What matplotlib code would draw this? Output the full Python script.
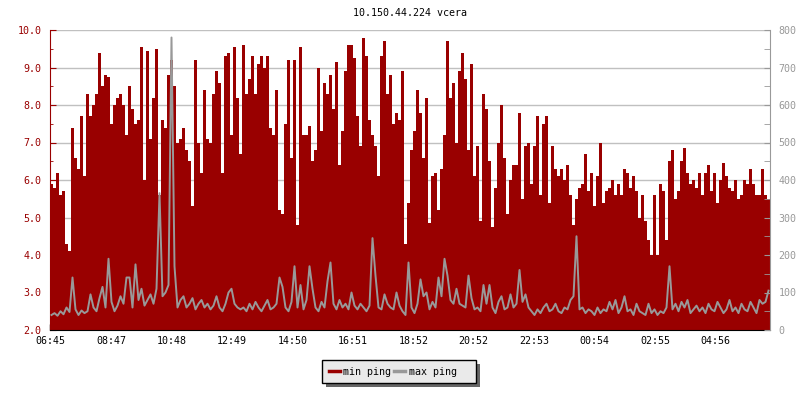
import numpy as np
import matplotlib
matplotlib.use("Agg")
import matplotlib.pyplot as plt
from matplotlib.ticker import MultipleLocator, FormatStrFormatter
from matplotlib.lines import Line2D
from matplotlib.patches import Rectangle

# one sample every 6 minutes, starting 06:45
step_min = 6

# min ping (left axis)
min_ping = [
    5.9, 5.8, 6.2, 5.6, 5.7, 4.3, 4.1, 7.4, 6.6, 6.3,
    7.7, 6.1, 8.3, 7.7, 8.0, 8.3, 9.4, 8.5, 8.8, 8.75,
    7.5, 8.0, 8.2, 8.3, 8.0, 7.2, 8.5, 7.9, 7.5, 7.6,
    9.55, 6.0, 9.45, 7.1, 8.2, 9.5, 5.6, 7.6, 7.4, 8.8,
    9.2, 8.5, 7.0, 7.1, 7.4, 6.8, 6.5, 5.3, 9.2, 7.0,
    6.2, 8.4, 7.1, 7.0, 8.3, 8.9, 8.6, 6.2, 9.3, 9.4,
    7.2, 9.55, 8.2, 6.7, 9.6, 8.3, 8.7, 9.3, 8.3, 9.1,
    9.3, 9.0, 9.3, 7.4, 7.2, 8.4, 5.2, 5.1, 7.5, 9.2,
    6.6, 9.2, 4.8, 9.55, 7.2, 7.2, 7.45, 6.5, 6.8, 9.0,
    7.3, 8.6, 8.3, 8.8, 7.9, 9.15, 6.4, 7.3, 8.9, 9.6,
    9.6, 9.25, 7.7, 6.9, 9.8, 9.3, 7.6, 7.2, 6.9, 6.1,
    9.3, 9.7, 8.3, 8.8, 7.5, 7.8, 7.6, 8.9, 4.3, 5.4,
    6.8, 7.3, 8.4, 7.8, 6.6, 8.2, 4.85, 6.1, 6.2, 5.2,
    6.3, 7.2, 9.7, 8.2, 8.6, 7.0, 8.9, 9.4, 8.7, 6.8,
    9.1, 6.1, 6.9, 4.9, 8.3, 7.9, 6.5, 4.75, 5.8, 7.0,
    8.0, 6.6, 5.1, 6.0, 6.4, 6.4, 7.8, 5.5, 6.9, 7.0,
    5.9, 6.9, 7.7, 5.6, 7.5, 7.7, 5.4, 6.9, 6.3, 6.1,
    6.3, 6.0, 6.4, 5.6, 4.8, 5.5, 5.8, 5.9, 6.7, 5.7,
    6.2, 5.3, 6.1, 7.0, 5.4, 5.7, 5.8, 6.0, 5.6, 5.9,
    5.6, 6.3, 6.2, 5.8, 6.1, 5.7, 5.0, 5.6, 4.9, 4.4,
    4.0, 5.6, 4.0, 5.9, 5.7, 4.4, 6.5, 6.8, 5.5, 5.7,
    6.5, 6.85, 6.2, 5.9, 6.0, 5.8, 6.2, 5.6, 6.2, 6.4,
    5.7, 6.2, 5.4, 6.0, 6.45, 6.1, 5.8, 5.7, 6.0, 5.5,
    5.6, 6.0, 5.9, 6.3, 5.9, 5.6, 5.6, 6.3, 5.6, 5.5,
]

# max ping (right axis)
max_ping = [
    40, 45, 38, 50, 42, 60, 48, 140, 55, 40,
    52, 45, 50, 95, 60, 50, 85, 115, 60, 190,
    75, 50, 65, 90, 70, 140, 140, 60, 175, 80,
    110, 65, 80, 95, 70, 110, 365, 90, 100, 120,
    780, 170, 60, 80, 90, 60, 70, 85, 55, 70,
    80, 60, 70, 55, 65, 90, 60, 50, 70, 100,
    110, 70, 60, 55, 60, 50, 70, 55, 75, 60,
    50, 65, 80, 55, 60, 70, 140, 115, 60, 50,
    75, 170, 60, 120, 55, 80, 170, 110, 60, 50,
    75, 60, 130, 180, 70, 55, 80, 60, 70, 55,
    100, 65, 55, 70, 60, 50, 65, 245, 145, 60,
    55, 95, 70, 60, 55, 100, 65, 50, 40, 180,
    60, 45, 70, 135, 90, 100, 55, 75, 60, 140,
    90, 190, 145, 80, 70, 110, 70, 65, 60, 145,
    85, 55, 60, 50, 120, 70, 120, 60, 45, 75,
    90, 55, 60, 95, 60, 70, 160, 75, 95, 60,
    50, 40, 55, 45, 60, 70, 50, 55, 70, 50,
    45, 60, 55, 80, 90, 250, 55, 60, 45, 55,
    50, 40, 60, 45, 55, 50, 75, 55, 80, 45,
    60, 90, 50, 55, 40, 70, 50, 45, 40, 70,
    45, 55, 40, 50, 45, 60, 170, 55, 70, 50,
    75, 60, 80, 45, 55, 65, 50, 60, 45, 70,
    55, 50, 75, 60, 45, 55, 80, 50, 60, 45,
    70, 55, 50, 75, 60, 45, 80, 70, 75, 105,
]

tick_labels = ["06:45", "08:47", "10:48", "12:49", "14:50", "16:51",
               "18:52", "20:52", "22:53", "00:54", "02:55", "04:56"]

red = "#990000"
grey = "#999999"

def to_minutes(label, start="06:45"):
    h, m = map(int, label.split(":"))
    sh, sm = map(int, start.split(":"))
    return ((h * 60 + m) - (sh * 60 + sm)) % 1440

t = np.arange(len(min_ping)) * step_min
t_edge = np.append(t, t[-1] + step_min)
mins = np.append(min_ping, min_ping[-1])

plt.rcParams['font.family'] = 'DejaVu Sans Mono'
plt.rcParams['font.size'] = 7.2

fig = plt.figure(figsize=(8, 4), dpi=100)
ax = fig.add_axes([0.0625, 0.175, 0.9, 0.75])

ax.fill_between(t_edge, 2.0, mins, step='post', color=red, linewidth=0, zorder=2)
ax.set_xlim(0, 1440)
ax.set_ylim(2.0, 10.0)
ax.yaxis.set_major_locator(MultipleLocator(1.0))
ax.yaxis.set_minor_locator(MultipleLocator(0.5))
ax.yaxis.set_major_formatter(FormatStrFormatter('%.1f'))
ax.set_axisbelow(True)
ax.yaxis.grid(True, color='#c0c0c0', linewidth=1)

ax.set_xticks([to_minutes(s) for s in tick_labels])
ax.set_xticklabels(tick_labels)
ax.tick_params(axis='x', direction='in', length=4, width=1, color='black', pad=4)
ax.tick_params(axis='y', which='major', direction='in', length=4, color=red, labelcolor=red, pad=6)
ax.tick_params(axis='y', which='minor', direction='in', length=2.5, color=red)

ax.spines['top'].set_visible(False)
ax.spines['right'].set_visible(False)
ax.spines['left'].set_color(red)
ax.spines['bottom'].set_color('black')

ax2 = ax.twinx()
ax2.plot(t + step_min / 2, max_ping, color=grey, linewidth=1.4)
ax2.set_ylim(0, 800)
ax2.yaxis.set_major_locator(MultipleLocator(100))
ax2.yaxis.set_minor_locator(MultipleLocator(50))
ax2.tick_params(axis='y', which='major', direction='in', length=4, color=grey, labelcolor=grey, pad=6)
ax2.tick_params(axis='y', which='minor', direction='in', length=4, color=grey)
for s in ['top', 'left', 'bottom']:
    ax2.spines[s].set_visible(False)
ax2.spines['right'].set_color(grey)

fig.text(0.5125, 0.967, "10.150.44.224 vcera", ha='center', va='center', color='black')

# legend box with a hard drop shadow
fig.patches.append(Rectangle((0.4075, 0.0325), 0.1925, 0.0575, transform=fig.transFigure,
                             facecolor='#666666', edgecolor='none', zorder=1))
fig.patches.append(Rectangle((0.4025, 0.0425), 0.1925, 0.0575, transform=fig.transFigure,
                             facecolor='#eaeaea', edgecolor='black', linewidth=1, zorder=2))

handles = [Line2D([], [], color=red, linewidth=2.5),
           Line2D([], [], color=grey, linewidth=2.5)]
leg = fig.legend(handles, ["min ping", "max ping"], loc='center left',
                 bbox_to_anchor=(0.4085, 0.071), ncol=2, frameon=False,
                 handlelength=1.1, handletextpad=0.35, columnspacing=0.3,
                 borderpad=0.2, borderaxespad=0)

fig.savefig("out.png", dpi=100)
